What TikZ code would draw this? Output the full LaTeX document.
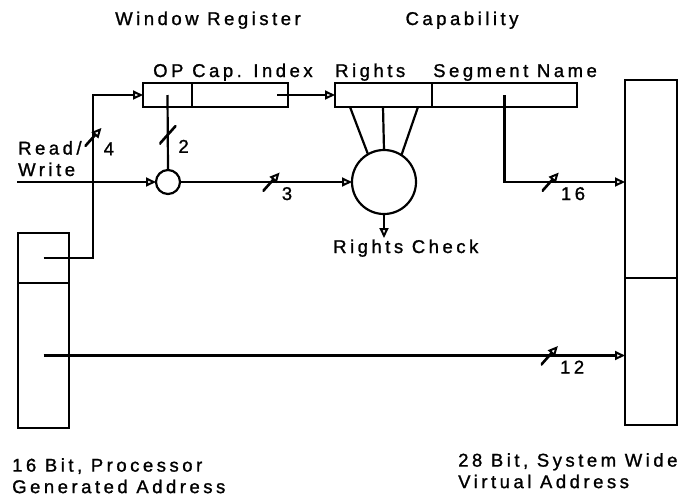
\documentclass[tikz,border=0pt]{standalone}
\usepackage{fontspec}
\setmainfont{Liberation Sans}[LetterSpace=19, FakeBold=1.2]
\usetikzlibrary{arrows.meta, positioning}
\tikzstyle{field}  = [rectangle, draw=black, line width=2.2pt, inner sep=0pt, outer sep=0pt, minimum height=24pt]
\tikzstyle{addr}   = [rectangle, draw=black, line width=2.2pt, inner sep=0pt, outer sep=0pt, minimum width=51pt]
\tikzstyle{check}  = [circle, draw=black, line width=2.2pt, inner sep=0pt, outer sep=0pt]
\tikzstyle{lbl}    = [font=\fontsize{18.5}{21.5}\selectfont, inner sep=0pt, align=left]
\tikzstyle{bitlbl} = [font=\fontsize{18.5}{21.5}\selectfont, inner sep=1pt]
\tikzstyle{wire}   = [line width=2.2pt]
\tikzstyle{arrow}  = [-{Triangle[open, length=10pt, width=9pt, line width=2pt]}, line width=2.2pt]
\tikzset{bus/.style={inner sep=0pt, minimum width=17pt, minimum height=19pt,
    path picture={\draw[line width=2.6pt] (path picture bounding box.south west) -- (path picture bounding box.north east);},
    label={[bitlbl, anchor=north west, yshift=-3pt, xshift=-1pt]east:#1}}}

\begin{document}
\begin{tikzpicture}[x=1pt, y=-1pt]
    \useasboundingbox (0,0) rectangle (685,496);

    % titles
    \node (wtitle) [lbl, anchor=base] at (208,25) {Window Register};
    \node (ctitle) [lbl, anchor=base] at (462,25) {Capability};

    % window register
    \node (op) [field, minimum width=49pt] at (167.5,95) {};
    \node (idx) [field, minimum width=96pt, right=0pt of op] {};
    \node (oplbl) [lbl, anchor=base west] at ([xshift=10pt, yshift=6pt]op.north west) {OP};
    \node (idxlbl) [lbl, anchor=base west] at ([yshift=6pt]idx.north west) {Cap. Index};

    % capability
    \node (rights) [field, minimum width=97pt] at (383.5,95) {};
    \node (segname) [field, minimum width=145pt, right=0pt of rights] {};
    \node (rightslbl) [lbl, anchor=base west] at ([yshift=6pt]rights.north west) {Rights};
    \node (seglbl) [lbl, anchor=base west] at ([xshift=1pt, yshift=6pt]segname.north west) {Segment Name};

    % checks
    \node (sc) [check, minimum size=24pt] at (168,182) {};
    \node (bc) [check, minimum size=64pt] at (384,182) {};

    % address registers
    \node (lhi) [addr, minimum height=50pt] at (43.5,258) {};
    \node (llo) [addr, minimum height=145pt, below=0pt of lhi] {};
    \node (vhi) [addr, minimum width=52pt, minimum height=198pt] at (651,179) {};
    \node (vlo) [addr, minimum width=52pt, minimum height=147pt, below=0pt of vhi] {};

    \coordinate (rw) at (17,182);
    \coordinate (lup) at (93,258);

    \node (rwlbl) [lbl, anchor=base west] at (18,176) {Read/\\Write};
    \node (chklbl) [lbl, anchor=base west] at (333,253) {Rights Check};
    \node (vlbl) [lbl, anchor=north west] at (12,458) {16 Bit, Processor\\Generated Address};
    \node (slbl) [lbl, anchor=north west] at (458,453) {28 Bit, System Wide\\Virtual Address};

    % connectors
    \draw[arrow] (lhi.center) -- (lup) |- node[bus=4, pos=0.37] {} (op.west);
    \draw[wire] (op.center) -- node[bus=2, pos=0.53] {} (sc.north);
    \draw[arrow] (rw) -- (sc.west);
    \draw[arrow] (sc.east) -- node[bus=3, pos=0.53] {} (bc.west);
    \draw[arrow] ([xshift=-11pt]idx.east) -- (rights.west);
    \draw[wire] ([xshift=15pt]rights.south west) -- (bc.120);
    \draw[wire] ([xshift=48pt]rights.south west) -- (bc.90);
    \draw[wire] ([xshift=83pt]rights.south west) -- (bc.57);
    \draw[arrow] (bc.south) -- ++(0,24);
    \draw[arrow] (segname.center) |- node[bus=16, pos=0.69] {} (vhi.west |- bc);
    \draw[arrow] (llo.center) -- node[bus=12, pos=0.87] {} (vlo.west |- llo);
\end{tikzpicture}
\end{document}
